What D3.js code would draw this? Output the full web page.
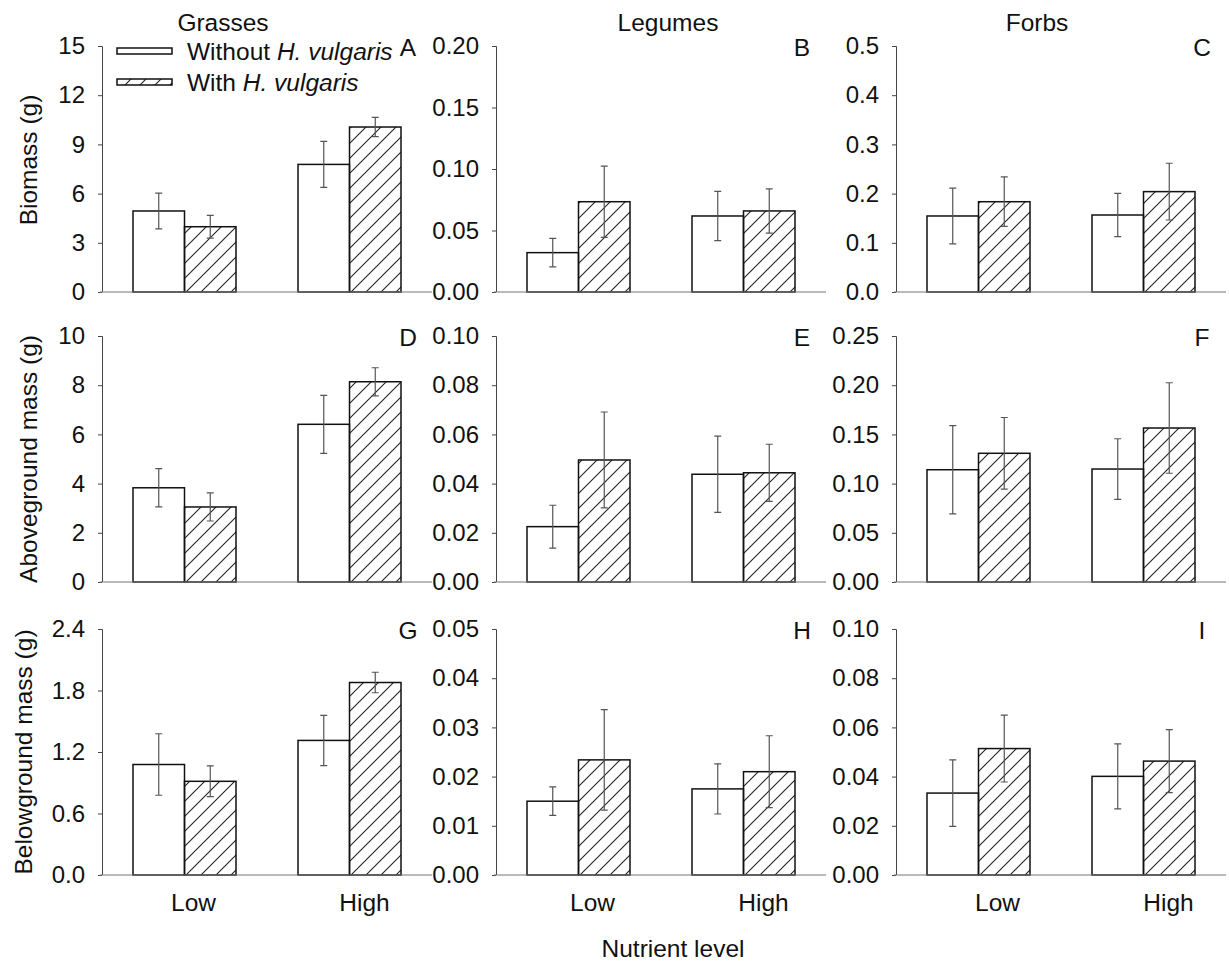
<!DOCTYPE html>
<html>
<head>
<meta charset="utf-8">
<script src="https://cdn.jsdelivr.net/npm/d3@7"></script>
<style>
  body { margin: 0; background: #fff; }
  svg { display: block; font-family: Arial, "Liberation Sans", sans-serif; }
  .tick text { font-size: 24px; fill: #111; }
</style>
</head>
<body>
<svg id="chart" width="1229" height="963"></svg>
<script>
// nutrient levels on the x axis, plant groups across, measures down
const categories = ["Low", "High"];
const groups = ["Grasses", "Legumes", "Forbs"];
const measures = ["Biomass (g)", "Aboveground mass (g)", "Belowground mass (g)"];
const letters = ["A", "B", "C", "D", "E", "F", "G", "H", "I"];

// y axis maximum, tick step and decimals, panel order A..I
const yMax = [15, 0.20, 0.5, 10, 0.10, 0.25, 2.4, 0.05, 0.10];
const yStep = [3, 0.05, 0.1, 2, 0.02, 0.05, 0.6, 0.01, 0.02];
const yDecimals = [0, 2, 1, 0, 2, 2, 1, 2, 2];

// means and error bars [Low, High] for each panel
const withoutMean = [[4.94, 7.78], [0.032, 0.0618], [0.1545, 0.1565],
                     [3.83, 6.41], [0.0225, 0.0438], [0.1141, 0.1148],
                     [1.078, 1.313], [0.0150, 0.0175], [0.0333, 0.0401]];
const withoutErr = [[1.09, 1.40], [0.0116, 0.020], [0.0565, 0.0441],
                    [0.78, 1.18], [0.0087, 0.0155], [0.0449, 0.0308],
                    [0.30, 0.245], [0.0029, 0.0051], [0.0135, 0.0132]];
const withMean = [[3.98, 10.06], [0.0734, 0.0659], [0.1835, 0.204],
                  [3.05, 8.14], [0.0496, 0.0444], [0.1308, 0.1565],
                  [0.914, 1.878], [0.0234, 0.021], [0.0514, 0.0463]];
const withErr = [[0.69, 0.59], [0.029, 0.018], [0.0503, 0.0577],
                 [0.57, 0.57], [0.0195, 0.0116], [0.0364, 0.046],
                 [0.15, 0.10], [0.0102, 0.0073], [0.0136, 0.0128]];

const colX = [102, 496, 896];
const rowY = [46, 336, 629];
const pw = 330, ph = 246, barW = 51.5;
const fs = 24.5;

const svg = d3.select("#chart");

const defs = svg.append("defs");
defs.append("pattern")
    .attr("id", "hatch")
    .attr("patternUnits", "userSpaceOnUse")
    .attr("width", 15).attr("height", 15)
  .append("path")
    .attr("d", "M-2,2 L2,-2 M0,15 L15,0 M13,17 L17,13")
    .attr("stroke", "#222")
    .attr("stroke-width", 1.1);

for (let r = 0; r < 3; r++) {
    for (let c = 0; c < 3; c++) {
        const i = r * 3 + c;
        const g = svg.append("g")
            .attr("transform", `translate(${colX[c]},${rowY[r]})`);

        const x = d3.scalePoint().domain(categories).range([0, pw]).padding(0.5);
        const y = d3.scaleLinear().domain([0, yMax[i]]).range([ph, 0]);
        const ticks = d3.range(0, yMax[i] + yStep[i] / 2, yStep[i]);

        const yAxis = g.append("g")
            .call(d3.axisLeft(y).tickValues(ticks)
                .tickFormat(d3.format(`.${yDecimals[i]}f`))
                .tickSize(4).tickPadding(13));
        yAxis.select(".domain").attr("stroke", "#444").attr("d", `M-4,0.5H0.5V${ph}`);
        yAxis.selectAll(".tick line").attr("stroke", "#444");

        const series = [
            { mean: withoutMean[i], err: withoutErr[i], fill: "#fff", off: -barW },
            { mean: withMean[i], err: withErr[i], fill: "url(#hatch)", off: 0 }
        ];
        series.forEach(s => {
            categories.forEach((cat, k) => {
                const x0 = x(cat) + s.off;
                const v = s.mean[k];
                g.append("rect")
                    .attr("x", x0).attr("y", y(v))
                    .attr("width", barW).attr("height", y(0) - y(v))
                    .attr("fill", s.fill)
                    .attr("stroke", "#111").attr("stroke-width", 1.5);
            });
        });
        series.forEach(s => {
            categories.forEach((cat, k) => {
                const cx = x(cat) + s.off + barW / 2;
                const hi = y(s.mean[k] + s.err[k]);
                const lo = y(s.mean[k] - s.err[k]);
                g.append("path")
                    .attr("d", `M${cx},${hi}V${lo}M${cx - 3.5},${hi}H${cx + 3.5}M${cx - 3.5},${lo}H${cx + 3.5}`)
                    .attr("stroke", "#555").attr("stroke-width", 1.2)
                    .attr("fill", "none");
            });
        });

        // baseline
        g.append("line")
            .attr("x1", -2).attr("x2", pw)
            .attr("y1", ph).attr("y2", ph)
            .attr("stroke", "#777").attr("stroke-width", 1.2);

        g.append("text")
            .attr("x", 306).attr("y", 10)
            .attr("text-anchor", "middle")
            .attr("font-size", fs)
            .attr("fill", "#111")
            .text(letters[i]);

        if (r === 0) {
            g.append("text")
                .attr("x", [121, 172, 141][c]).attr("y", -15)
                .attr("text-anchor", "middle")
                .attr("font-size", fs).attr("fill", "#111")
                .text(groups[c]);
        }
        if (r === 2) {
            categories.forEach((cat, k) => {
                g.append("text")
                    .attr("x", x(cat) + 9 + 5 * c + 6 * k)
                    .attr("y", ph + 36)
                    .attr("text-anchor", "middle")
                    .attr("font-size", fs).attr("fill", "#111")
                    .text(cat);
            });
        }
    }
    svg.append("text")
        .attr("transform", `translate(${[37, 37, 32][r]},${rowY[r] + ph / 2 + [-9, 0, 0][r]}) rotate(-90)`)
        .attr("text-anchor", "middle")
        .attr("font-size", fs).attr("fill", "#111")
        .text(measures[r]);
}

// legend
const legend = [
    { fill: "#fff", pre: "Without " },
    { fill: "url(#hatch)", pre: "With " }
];
legend.forEach((d, k) => {
    const ly = 48 + k * 31;
    svg.append("rect")
        .attr("x", 117).attr("y", ly)
        .attr("width", 55).attr("height", 6)
        .attr("fill", d.fill)
        .attr("stroke", "#111").attr("stroke-width", 1.5);
    const t = svg.append("text")
        .attr("x", 187).attr("y", ly + 12)
        .attr("font-size", fs).attr("fill", "#111");
    t.append("tspan").text(d.pre);
    t.append("tspan").attr("font-style", "italic").text("H. vulgaris");
});

svg.append("text")
    .attr("x", 673).attr("y", 957)
    .attr("text-anchor", "middle")
    .attr("font-size", fs).attr("fill", "#111")
    .text("Nutrient level");
</script>
</body>
</html>
